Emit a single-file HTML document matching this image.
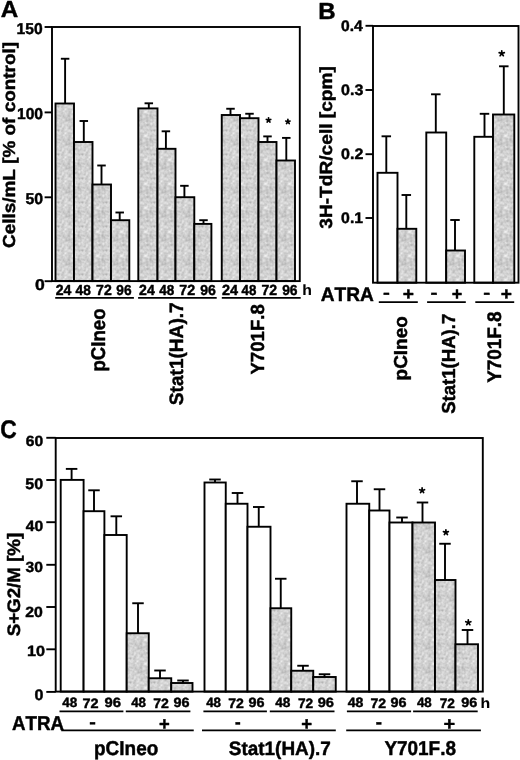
<!DOCTYPE html>
<html><head><meta charset="utf-8"><style>
html,body{margin:0;padding:0;background:#fff;}
body{width:520px;height:760px;overflow:hidden;}
svg{display:block;will-change:transform;filter:blur(0.35px);}
text{font-family:"Liberation Sans",sans-serif;font-weight:bold;font-size:200px;fill:#000;stroke:#000;stroke-linejoin:round;text-rendering:geometricPrecision;font-kerning:none;}
</style></head><body>
<svg width="520" height="760" viewBox="0 0 520 760">
<defs><pattern id="stip" patternUnits="userSpaceOnUse" x="0" y="0" width="24" height="24"><g shape-rendering="crispEdges"><path d="M10 10h1v1h-1zM6 19h1v1h-1z" fill="rgb(180,180,180)"/><path d="M18 0h1v1h-1zM3 4h1v1h-1zM3 5h1v1h-1zM20 19h1v1h-1zM6 20h1v1h-1zM21 23h1v1h-1z" fill="rgb(185,185,185)"/><path d="M3 0h1v1h-1zM19 0h1v1h-1zM20 0h1v1h-1zM21 0h1v1h-1zM3 1h1v1h-1zM4 4h1v1h-1zM21 7h1v1h-1zM21 8h1v1h-1zM7 10h1v1h-1zM9 10h1v1h-1zM6 18h1v1h-1zM21 19h1v1h-1zM7 20h1v1h-1zM15 20h1v1h-1zM20 20h1v1h-1zM21 20h1v1h-1zM8 21h1v1h-1zM18 23h1v1h-1z" fill="rgb(190,190,190)"/><path d="M2 0h1v1h-1zM17 0h1v1h-1zM2 1h1v1h-1zM2 4h1v1h-1zM2 5h1v1h-1zM4 5h1v1h-1zM6 6h1v1h-1zM12 6h1v1h-1zM21 6h1v1h-1zM22 6h1v1h-1zM22 7h1v1h-1zM15 8h1v1h-1zM10 9h1v1h-1zM14 10h1v1h-1zM7 15h1v1h-1zM21 15h1v1h-1zM6 16h1v1h-1zM7 16h1v1h-1zM21 16h1v1h-1zM21 17h1v1h-1zM20 18h1v1h-1zM21 18h1v1h-1zM2 19h1v1h-1zM5 19h1v1h-1zM7 19h1v1h-1zM11 19h1v1h-1zM15 19h1v1h-1zM8 20h1v1h-1zM2 21h1v1h-1zM3 21h1v1h-1zM6 21h1v1h-1zM7 21h1v1h-1zM16 21h1v1h-1zM2 22h1v1h-1zM3 22h1v1h-1zM8 22h1v1h-1zM18 22h1v1h-1zM21 22h1v1h-1zM3 23h1v1h-1zM20 23h1v1h-1zM22 23h1v1h-1z" fill="rgb(195,195,195)"/><path d="M4 0h1v1h-1zM22 0h1v1h-1zM6 1h1v1h-1zM8 1h1v1h-1zM17 1h1v1h-1zM18 1h1v1h-1zM21 1h1v1h-1zM15 2h1v1h-1zM23 2h1v1h-1zM13 3h1v1h-1zM0 4h1v1h-1zM5 4h1v1h-1zM0 5h1v1h-1zM1 5h1v1h-1zM5 5h1v1h-1zM6 5h1v1h-1zM8 5h1v1h-1zM19 5h1v1h-1zM1 6h1v1h-1zM7 6h1v1h-1zM6 7h1v1h-1zM14 8h1v1h-1zM20 8h1v1h-1zM22 8h1v1h-1zM3 9h1v1h-1zM6 9h1v1h-1zM9 9h1v1h-1zM14 9h1v1h-1zM15 9h1v1h-1zM6 10h1v1h-1zM8 10h1v1h-1zM11 10h1v1h-1zM13 10h1v1h-1zM7 11h1v1h-1zM10 11h1v1h-1zM13 11h1v1h-1zM14 11h1v1h-1zM1 12h1v1h-1zM2 12h1v1h-1zM15 13h1v1h-1zM20 13h1v1h-1zM21 13h1v1h-1zM22 13h1v1h-1zM23 13h1v1h-1zM6 15h1v1h-1zM22 15h1v1h-1zM14 16h1v1h-1zM22 16h1v1h-1zM6 17h1v1h-1zM13 17h1v1h-1zM14 17h1v1h-1zM20 17h1v1h-1zM22 17h1v1h-1zM1 18h1v1h-1zM2 18h1v1h-1zM3 18h1v1h-1zM7 18h1v1h-1zM3 19h1v1h-1zM9 19h1v1h-1zM10 19h1v1h-1zM12 19h1v1h-1zM19 19h1v1h-1zM2 20h1v1h-1zM5 20h1v1h-1zM12 20h1v1h-1zM16 20h1v1h-1zM19 20h1v1h-1zM15 21h1v1h-1zM17 21h1v1h-1zM18 21h1v1h-1zM19 21h1v1h-1zM21 21h1v1h-1zM0 22h1v1h-1zM1 22h1v1h-1zM6 22h1v1h-1zM7 22h1v1h-1zM9 22h1v1h-1zM17 22h1v1h-1zM20 22h1v1h-1zM0 23h1v1h-1zM2 23h1v1h-1zM8 23h1v1h-1zM13 23h1v1h-1zM17 23h1v1h-1zM19 23h1v1h-1zM23 23h1v1h-1z" fill="rgb(200,200,200)"/><path d="M5 0h1v1h-1zM8 0h1v1h-1zM9 0h1v1h-1zM13 0h1v1h-1zM23 0h1v1h-1zM4 1h1v1h-1zM5 1h1v1h-1zM7 1h1v1h-1zM15 1h1v1h-1zM16 1h1v1h-1zM19 1h1v1h-1zM20 1h1v1h-1zM22 1h1v1h-1zM0 2h1v1h-1zM3 2h1v1h-1zM13 2h1v1h-1zM14 2h1v1h-1zM20 2h1v1h-1zM21 2h1v1h-1zM0 3h1v1h-1zM3 3h1v1h-1zM4 3h1v1h-1zM5 3h1v1h-1zM12 3h1v1h-1zM1 4h1v1h-1zM9 4h1v1h-1zM13 4h1v1h-1zM19 4h1v1h-1zM9 5h1v1h-1zM12 5h1v1h-1zM13 5h1v1h-1zM21 5h1v1h-1zM22 5h1v1h-1zM23 5h1v1h-1zM0 6h1v1h-1zM5 6h1v1h-1zM8 6h1v1h-1zM11 6h1v1h-1zM13 6h1v1h-1zM16 6h1v1h-1zM20 6h1v1h-1zM23 6h1v1h-1zM7 7h1v1h-1zM15 7h1v1h-1zM16 7h1v1h-1zM20 7h1v1h-1zM6 8h1v1h-1zM2 9h1v1h-1zM5 9h1v1h-1zM7 9h1v1h-1zM8 9h1v1h-1zM11 9h1v1h-1zM23 9h1v1h-1zM3 10h1v1h-1zM4 10h1v1h-1zM15 10h1v1h-1zM1 11h1v1h-1zM15 11h1v1h-1zM0 12h1v1h-1zM14 12h1v1h-1zM15 12h1v1h-1zM20 12h1v1h-1zM21 12h1v1h-1zM0 13h1v1h-1zM1 13h1v1h-1zM14 13h1v1h-1zM8 14h1v1h-1zM9 14h1v1h-1zM13 14h1v1h-1zM14 14h1v1h-1zM20 14h1v1h-1zM21 14h1v1h-1zM22 14h1v1h-1zM4 15h1v1h-1zM8 15h1v1h-1zM11 15h1v1h-1zM12 15h1v1h-1zM13 15h1v1h-1zM17 15h1v1h-1zM18 15h1v1h-1zM20 15h1v1h-1zM8 16h1v1h-1zM13 16h1v1h-1zM20 16h1v1h-1zM7 17h1v1h-1zM0 18h1v1h-1zM5 18h1v1h-1zM9 18h1v1h-1zM13 18h1v1h-1zM14 18h1v1h-1zM15 18h1v1h-1zM16 18h1v1h-1zM19 18h1v1h-1zM1 19h1v1h-1zM8 19h1v1h-1zM13 19h1v1h-1zM14 19h1v1h-1zM16 19h1v1h-1zM3 20h1v1h-1zM11 20h1v1h-1zM14 20h1v1h-1zM17 20h1v1h-1zM1 21h1v1h-1zM4 21h1v1h-1zM5 21h1v1h-1zM9 21h1v1h-1zM14 21h1v1h-1zM20 21h1v1h-1zM4 22h1v1h-1zM10 22h1v1h-1zM11 22h1v1h-1zM16 22h1v1h-1zM19 22h1v1h-1zM22 22h1v1h-1zM23 22h1v1h-1zM1 23h1v1h-1zM4 23h1v1h-1zM9 23h1v1h-1z" fill="rgb(205,205,205)"/><path d="M0 0h1v1h-1zM1 0h1v1h-1zM6 0h1v1h-1zM12 0h1v1h-1zM14 0h1v1h-1zM16 0h1v1h-1zM0 1h1v1h-1zM1 1h1v1h-1zM9 1h1v1h-1zM12 1h1v1h-1zM13 1h1v1h-1zM14 1h1v1h-1zM23 1h1v1h-1zM4 2h1v1h-1zM5 2h1v1h-1zM6 2h1v1h-1zM8 2h1v1h-1zM11 2h1v1h-1zM12 2h1v1h-1zM16 2h1v1h-1zM22 2h1v1h-1zM9 3h1v1h-1zM14 3h1v1h-1zM15 3h1v1h-1zM20 3h1v1h-1zM23 3h1v1h-1zM8 4h1v1h-1zM12 4h1v1h-1zM16 4h1v1h-1zM17 4h1v1h-1zM18 4h1v1h-1zM20 4h1v1h-1zM21 4h1v1h-1zM23 4h1v1h-1zM7 5h1v1h-1zM10 5h1v1h-1zM16 5h1v1h-1zM17 5h1v1h-1zM18 5h1v1h-1zM20 5h1v1h-1zM2 6h1v1h-1zM3 6h1v1h-1zM4 6h1v1h-1zM9 6h1v1h-1zM10 6h1v1h-1zM19 6h1v1h-1zM1 7h1v1h-1zM5 7h1v1h-1zM12 7h1v1h-1zM2 8h1v1h-1zM5 8h1v1h-1zM7 8h1v1h-1zM16 8h1v1h-1zM23 8h1v1h-1zM0 9h1v1h-1zM1 9h1v1h-1zM4 9h1v1h-1zM13 9h1v1h-1zM20 9h1v1h-1zM21 9h1v1h-1zM22 9h1v1h-1zM0 10h1v1h-1zM2 10h1v1h-1zM5 10h1v1h-1zM0 11h1v1h-1zM2 11h1v1h-1zM6 11h1v1h-1zM16 11h1v1h-1zM17 11h1v1h-1zM18 11h1v1h-1zM19 12h1v1h-1zM22 12h1v1h-1zM2 13h1v1h-1zM4 13h1v1h-1zM8 13h1v1h-1zM13 13h1v1h-1zM19 13h1v1h-1zM4 14h1v1h-1zM7 14h1v1h-1zM18 14h1v1h-1zM19 14h1v1h-1zM23 14h1v1h-1zM5 15h1v1h-1zM9 15h1v1h-1zM10 15h1v1h-1zM14 15h1v1h-1zM19 15h1v1h-1zM23 15h1v1h-1zM5 16h1v1h-1zM9 16h1v1h-1zM11 16h1v1h-1zM12 16h1v1h-1zM15 16h1v1h-1zM18 16h1v1h-1zM0 17h1v1h-1zM1 17h1v1h-1zM12 17h1v1h-1zM15 17h1v1h-1zM16 17h1v1h-1zM19 17h1v1h-1zM23 17h1v1h-1zM8 18h1v1h-1zM10 18h1v1h-1zM11 18h1v1h-1zM12 18h1v1h-1zM22 18h1v1h-1zM23 18h1v1h-1zM4 19h1v1h-1zM17 19h1v1h-1zM18 19h1v1h-1zM22 19h1v1h-1zM1 20h1v1h-1zM9 20h1v1h-1zM10 20h1v1h-1zM13 20h1v1h-1zM18 20h1v1h-1zM22 20h1v1h-1zM22 21h1v1h-1zM5 22h1v1h-1zM13 22h1v1h-1zM14 22h1v1h-1zM15 22h1v1h-1zM5 23h1v1h-1zM6 23h1v1h-1zM12 23h1v1h-1z" fill="rgb(210,210,210)"/><path d="M7 0h1v1h-1zM15 0h1v1h-1zM11 1h1v1h-1zM2 2h1v1h-1zM7 2h1v1h-1zM17 2h1v1h-1zM1 3h1v1h-1zM8 3h1v1h-1zM11 3h1v1h-1zM16 3h1v1h-1zM19 3h1v1h-1zM21 3h1v1h-1zM22 3h1v1h-1zM6 4h1v1h-1zM10 4h1v1h-1zM11 4h1v1h-1zM22 4h1v1h-1zM11 5h1v1h-1zM15 6h1v1h-1zM17 6h1v1h-1zM0 7h1v1h-1zM2 7h1v1h-1zM4 7h1v1h-1zM8 7h1v1h-1zM9 7h1v1h-1zM10 7h1v1h-1zM11 7h1v1h-1zM13 7h1v1h-1zM14 7h1v1h-1zM17 7h1v1h-1zM23 7h1v1h-1zM0 8h1v1h-1zM1 8h1v1h-1zM3 8h1v1h-1zM8 8h1v1h-1zM9 8h1v1h-1zM10 8h1v1h-1zM17 8h1v1h-1zM19 8h1v1h-1zM12 9h1v1h-1zM16 9h1v1h-1zM19 9h1v1h-1zM1 10h1v1h-1zM12 10h1v1h-1zM16 10h1v1h-1zM18 10h1v1h-1zM19 10h1v1h-1zM23 10h1v1h-1zM3 11h1v1h-1zM4 11h1v1h-1zM5 11h1v1h-1zM8 11h1v1h-1zM9 11h1v1h-1zM11 11h1v1h-1zM19 11h1v1h-1zM6 12h1v1h-1zM7 12h1v1h-1zM13 12h1v1h-1zM16 12h1v1h-1zM23 12h1v1h-1zM5 13h1v1h-1zM7 13h1v1h-1zM9 13h1v1h-1zM5 14h1v1h-1zM6 14h1v1h-1zM10 14h1v1h-1zM12 14h1v1h-1zM15 14h1v1h-1zM17 14h1v1h-1zM4 16h1v1h-1zM10 16h1v1h-1zM16 16h1v1h-1zM17 16h1v1h-1zM19 16h1v1h-1zM23 16h1v1h-1zM2 17h1v1h-1zM5 17h1v1h-1zM8 17h1v1h-1zM9 17h1v1h-1zM11 17h1v1h-1zM18 17h1v1h-1zM4 18h1v1h-1zM17 18h1v1h-1zM18 18h1v1h-1zM0 19h1v1h-1zM4 20h1v1h-1zM0 21h1v1h-1zM10 21h1v1h-1zM11 21h1v1h-1zM13 21h1v1h-1zM12 22h1v1h-1zM7 23h1v1h-1zM10 23h1v1h-1zM11 23h1v1h-1zM14 23h1v1h-1zM16 23h1v1h-1z" fill="rgb(215,215,215)"/><path d="M10 0h1v1h-1zM11 0h1v1h-1zM10 1h1v1h-1zM9 2h1v1h-1zM18 2h1v1h-1zM19 2h1v1h-1zM2 3h1v1h-1zM6 3h1v1h-1zM10 3h1v1h-1zM17 3h1v1h-1zM18 3h1v1h-1zM14 4h1v1h-1zM15 4h1v1h-1zM18 6h1v1h-1zM3 7h1v1h-1zM19 7h1v1h-1zM4 8h1v1h-1zM11 8h1v1h-1zM13 8h1v1h-1zM17 10h1v1h-1zM20 10h1v1h-1zM22 10h1v1h-1zM12 11h1v1h-1zM20 11h1v1h-1zM21 11h1v1h-1zM22 11h1v1h-1zM3 12h1v1h-1zM4 12h1v1h-1zM5 12h1v1h-1zM8 12h1v1h-1zM9 12h1v1h-1zM10 12h1v1h-1zM11 12h1v1h-1zM12 12h1v1h-1zM18 12h1v1h-1zM3 13h1v1h-1zM6 13h1v1h-1zM11 13h1v1h-1zM12 13h1v1h-1zM16 13h1v1h-1zM18 13h1v1h-1zM0 14h1v1h-1zM1 14h1v1h-1zM11 14h1v1h-1zM16 14h1v1h-1zM3 15h1v1h-1zM16 15h1v1h-1zM3 16h1v1h-1zM3 17h1v1h-1zM10 17h1v1h-1zM17 17h1v1h-1zM23 19h1v1h-1zM0 20h1v1h-1zM12 21h1v1h-1zM23 21h1v1h-1z" fill="rgb(220,220,220)"/><path d="M1 2h1v1h-1zM10 2h1v1h-1zM7 4h1v1h-1zM14 5h1v1h-1zM15 5h1v1h-1zM14 6h1v1h-1zM18 7h1v1h-1zM12 8h1v1h-1zM18 8h1v1h-1zM17 9h1v1h-1zM18 9h1v1h-1zM21 10h1v1h-1zM23 11h1v1h-1zM17 12h1v1h-1zM10 13h1v1h-1zM2 14h1v1h-1zM3 14h1v1h-1zM15 15h1v1h-1zM4 17h1v1h-1zM23 20h1v1h-1zM15 23h1v1h-1z" fill="rgb(225,225,225)"/><path d="M7 3h1v1h-1zM0 15h1v1h-1zM0 16h1v1h-1zM2 16h1v1h-1z" fill="rgb(230,230,230)"/><path d="M17 13h1v1h-1zM2 15h1v1h-1zM1 16h1v1h-1z" fill="rgb(235,235,235)"/><path d="M1 15h1v1h-1z" fill="rgb(240,240,240)"/></g></pattern></defs>
<g stroke="#000" fill="none" stroke-linecap="butt">
<rect x="0" y="0" width="520" height="760" fill="#fff" stroke="none"/>
<text id="t0" transform="matrix(0.12127,0,0,0.11649,0.819,17.300)" stroke-width="3.79">A</text>
<line x1="44.60" y1="27.00" x2="52.00" y2="27.00" stroke-width="1.9"/>
<text id="t1" transform="matrix(0.07843,0,0,0.07782,16.584,33.719)" stroke-width="5.76">150</text>
<line x1="44.60" y1="112.40" x2="52.00" y2="112.40" stroke-width="1.9"/>
<text id="t2" transform="matrix(0.07780,0,0,0.07782,16.991,118.719)" stroke-width="5.78">100</text>
<line x1="44.60" y1="197.30" x2="52.00" y2="197.30" stroke-width="1.9"/>
<text id="t3" transform="matrix(0.07909,0,0,0.07782,25.550,203.719)" stroke-width="5.74">50</text>
<line x1="44.60" y1="281.20" x2="52.00" y2="281.20" stroke-width="1.9"/>
<text id="t4" transform="matrix(0.08789,0,0,0.07852,34.922,290.018)" stroke-width="5.42">0</text>
<line x1="65.10" y1="103.50" x2="65.10" y2="58.75" stroke-width="1.9"/>
<line x1="60.85" y1="58.75" x2="69.35" y2="58.75" stroke-width="1.9"/>
<rect x="55.50" y="103.50" width="18.50" height="177.60" fill="url(#stip)" stroke-width="1.9"/>
<line x1="83.80" y1="142.00" x2="83.80" y2="121.00" stroke-width="1.9"/>
<line x1="79.55" y1="121.00" x2="88.05" y2="121.00" stroke-width="1.9"/>
<rect x="74.00" y="142.00" width="18.50" height="139.10" fill="url(#stip)" stroke-width="1.9"/>
<line x1="101.50" y1="184.50" x2="101.50" y2="165.50" stroke-width="1.9"/>
<line x1="97.25" y1="165.50" x2="105.75" y2="165.50" stroke-width="1.9"/>
<rect x="92.50" y="184.50" width="18.50" height="96.60" fill="url(#stip)" stroke-width="1.9"/>
<line x1="119.70" y1="220.20" x2="119.70" y2="212.50" stroke-width="1.9"/>
<line x1="115.45" y1="212.50" x2="123.95" y2="212.50" stroke-width="1.9"/>
<rect x="111.00" y="220.20" width="18.30" height="60.90" fill="url(#stip)" stroke-width="1.9"/>
<line x1="148.80" y1="108.40" x2="148.80" y2="103.30" stroke-width="1.9"/>
<line x1="144.55" y1="103.30" x2="153.05" y2="103.30" stroke-width="1.9"/>
<rect x="138.30" y="108.40" width="19.20" height="172.70" fill="url(#stip)" stroke-width="1.9"/>
<line x1="165.90" y1="148.80" x2="165.90" y2="131.30" stroke-width="1.9"/>
<line x1="161.65" y1="131.30" x2="170.15" y2="131.30" stroke-width="1.9"/>
<rect x="157.50" y="148.80" width="18.00" height="132.30" fill="url(#stip)" stroke-width="1.9"/>
<line x1="184.40" y1="197.20" x2="184.40" y2="185.80" stroke-width="1.9"/>
<line x1="180.15" y1="185.80" x2="188.65" y2="185.80" stroke-width="1.9"/>
<rect x="175.50" y="197.20" width="18.80" height="83.90" fill="url(#stip)" stroke-width="1.9"/>
<line x1="203.50" y1="223.90" x2="203.50" y2="220.20" stroke-width="1.9"/>
<line x1="199.25" y1="220.20" x2="207.75" y2="220.20" stroke-width="1.9"/>
<rect x="194.30" y="223.90" width="17.10" height="57.20" fill="url(#stip)" stroke-width="1.9"/>
<line x1="230.50" y1="115.00" x2="230.50" y2="108.75" stroke-width="1.9"/>
<line x1="226.25" y1="108.75" x2="234.75" y2="108.75" stroke-width="1.9"/>
<rect x="221.75" y="115.00" width="18.25" height="166.10" fill="url(#stip)" stroke-width="1.9"/>
<line x1="249.50" y1="118.20" x2="249.50" y2="113.75" stroke-width="1.9"/>
<line x1="245.25" y1="113.75" x2="253.75" y2="113.75" stroke-width="1.9"/>
<rect x="240.00" y="118.20" width="18.50" height="162.90" fill="url(#stip)" stroke-width="1.9"/>
<line x1="267.50" y1="142.00" x2="267.50" y2="136.40" stroke-width="1.9"/>
<line x1="263.25" y1="136.40" x2="271.75" y2="136.40" stroke-width="1.9"/>
<rect x="258.50" y="142.00" width="18.00" height="139.10" fill="url(#stip)" stroke-width="1.9"/>
<line x1="286.30" y1="160.50" x2="286.30" y2="137.90" stroke-width="1.9"/>
<line x1="282.05" y1="137.90" x2="290.55" y2="137.90" stroke-width="1.9"/>
<rect x="276.50" y="160.50" width="18.50" height="120.60" fill="url(#stip)" stroke-width="1.9"/>
<rect x="52" y="27" width="247.8" height="254.10000000000002" fill="none" stroke-width="1.9"/>
<path d="M268.55 120.16L268.55 117.85M268.55 120.16L270.75 119.45M268.55 120.16L266.35 119.45M268.55 120.16L269.91 122.03M268.55 120.16L267.19 122.03" stroke-width="1.7" stroke-linecap="round" stroke-linejoin="round"/>
<path d="M287.90 121.71L287.90 119.45M287.90 121.71L290.05 121.01M287.90 121.71L285.75 121.01M287.90 121.71L289.23 123.54M287.90 121.71L286.57 123.54" stroke-width="1.7" stroke-linecap="round" stroke-linejoin="round"/>
<text id="t5" transform="matrix(0.07079,0,0,0.07321,55.729,295.475)" stroke-width="6.25">24</text>
<text id="t6" transform="matrix(0.06878,0,0,0.07218,75.619,295.331)" stroke-width="6.39">48</text>
<text id="t7" transform="matrix(0.07063,0,0,0.07321,96.060,295.475)" stroke-width="6.26">72</text>
<text id="t8" transform="matrix(0.06851,0,0,0.07218,116.345,295.331)" stroke-width="6.40">96</text>
<text id="t9" transform="matrix(0.07079,0,0,0.07321,139.029,295.475)" stroke-width="6.25">24</text>
<text id="t10" transform="matrix(0.06690,0,0,0.07218,159.224,295.331)" stroke-width="6.48">48</text>
<text id="t11" transform="matrix(0.07112,0,0,0.07321,179.256,295.475)" stroke-width="6.24">72</text>
<text id="t12" transform="matrix(0.06995,0,0,0.07218,200.135,295.331)" stroke-width="6.33">96</text>
<text id="t13" transform="matrix(0.07266,0,0,0.07321,221.916,295.475)" stroke-width="6.17">24</text>
<text id="t14" transform="matrix(0.06643,0,0,0.07218,241.526,295.331)" stroke-width="6.50">48</text>
<text id="t15" transform="matrix(0.07015,0,0,0.07321,261.464,295.475)" stroke-width="6.28">72</text>
<text id="t16" transform="matrix(0.06899,0,0,0.07218,282.142,295.331)" stroke-width="6.38">96</text>
<text id="t17" transform="matrix(0.07917,0,0,0.07448,302.142,295.250)" stroke-width="1.30">h</text>
<line x1="55.20" y1="297.90" x2="133.90" y2="297.90" stroke-width="1.9"/>
<line x1="138.10" y1="297.90" x2="216.70" y2="297.90" stroke-width="1.9"/>
<line x1="221.80" y1="297.90" x2="300.70" y2="297.90" stroke-width="1.9"/>
<text id="t18" transform="matrix(0,-0.09292,0.09982,0,105.000,371.483)" stroke-width="4.67">pCIneo</text>
<text id="t19" transform="matrix(0,-0.09535,0.09638,0,183.300,405.147)" stroke-width="4.69">Stat1(HA).7</text>
<text id="t20" transform="matrix(0,-0.09310,0.09482,0,263.500,374.547)" stroke-width="4.79">Y701F.8</text>
<text id="t21" transform="matrix(0,-0.09460,0.08672,0,14.800,247.932)" stroke-width="4.97">Cells/mL [% of control]</text>
<text id="t22" transform="matrix(0.12008,0,0,0.11576,318.164,18.500)" stroke-width="3.82">B</text>
<line x1="365.50" y1="25.80" x2="373.00" y2="25.80" stroke-width="1.9"/>
<text id="t23" transform="matrix(0.07788,0,0,0.07570,341.102,30.624)" stroke-width="5.86">0.4</text>
<line x1="365.50" y1="90.00" x2="373.00" y2="90.00" stroke-width="1.9"/>
<text id="t24" transform="matrix(0.07966,0,0,0.07570,341.088,94.824)" stroke-width="5.79">0.3</text>
<line x1="365.50" y1="154.20" x2="373.00" y2="154.20" stroke-width="1.9"/>
<text id="t25" transform="matrix(0.07996,0,0,0.07570,341.085,159.024)" stroke-width="5.78">0.2</text>
<line x1="365.50" y1="218.00" x2="373.00" y2="218.00" stroke-width="1.9"/>
<text id="t26" transform="matrix(0.07906,0,0,0.07570,341.093,222.824)" stroke-width="5.82">0.1</text>
<line x1="386.30" y1="172.80" x2="386.30" y2="136.30" stroke-width="1.9"/>
<line x1="381.55" y1="136.30" x2="391.05" y2="136.30" stroke-width="1.9"/>
<rect x="377.50" y="172.80" width="20.00" height="109.90" fill="#fff" stroke-width="1.9"/>
<line x1="406.30" y1="228.80" x2="406.30" y2="195.00" stroke-width="1.9"/>
<line x1="401.55" y1="195.00" x2="411.05" y2="195.00" stroke-width="1.9"/>
<rect x="397.50" y="228.80" width="18.80" height="53.90" fill="url(#stip)" stroke-width="1.9"/>
<line x1="435.80" y1="132.50" x2="435.80" y2="94.30" stroke-width="1.9"/>
<line x1="431.05" y1="94.30" x2="440.55" y2="94.30" stroke-width="1.9"/>
<rect x="426.30" y="132.50" width="19.90" height="150.20" fill="#fff" stroke-width="1.9"/>
<line x1="455.00" y1="250.50" x2="455.00" y2="220.00" stroke-width="1.9"/>
<line x1="450.25" y1="220.00" x2="459.75" y2="220.00" stroke-width="1.9"/>
<rect x="446.20" y="250.50" width="18.80" height="32.20" fill="url(#stip)" stroke-width="1.9"/>
<line x1="484.50" y1="136.80" x2="484.50" y2="113.80" stroke-width="1.9"/>
<line x1="479.75" y1="113.80" x2="489.25" y2="113.80" stroke-width="1.9"/>
<rect x="474.30" y="136.80" width="18.70" height="145.90" fill="#fff" stroke-width="1.9"/>
<line x1="503.80" y1="114.50" x2="503.80" y2="66.30" stroke-width="1.9"/>
<line x1="499.05" y1="66.30" x2="508.55" y2="66.30" stroke-width="1.9"/>
<rect x="493.00" y="114.50" width="21.30" height="168.20" fill="url(#stip)" stroke-width="1.9"/>
<rect x="373" y="26" width="145.5" height="256.7" fill="none" stroke-width="1.9"/>
<path d="M501.75 53.48L501.75 50.75M501.75 53.48L504.35 52.64M501.75 53.48L499.15 52.64M501.75 53.48L503.36 55.70M501.75 53.48L500.14 55.70" stroke-width="1.7" stroke-linecap="round" stroke-linejoin="round"/>
<text id="t27" transform="matrix(0,-0.09569,0.08810,0,332.000,228.753)" stroke-width="4.90">3H-TdR/cell [cpm]</text>
<text id="t28" transform="matrix(0.09550,0,0,0.09801,320.747,300.750)" stroke-width="4.65">ATRA</text>
<text id="t29" transform="matrix(0.10294,0,0,0.08125,382.901,297.825)" stroke-width="4.92">-</text>
<text id="t30" transform="matrix(0.10490,0,0,0.08125,430.486,297.825)" stroke-width="4.87">-</text>
<text id="t31" transform="matrix(0.10490,0,0,0.08125,483.286,297.825)" stroke-width="4.87">-</text>
<text id="t32" transform="matrix(0.09554,0,0,0.08971,402.861,299.921)" stroke-width="4.86">+</text>
<text id="t33" transform="matrix(0.08960,0,0,0.08971,451.708,299.921)" stroke-width="5.02">+</text>
<text id="t34" transform="matrix(0.09554,0,0,0.08971,500.661,299.921)" stroke-width="4.86">+</text>
<line x1="378.80" y1="302.10" x2="417.80" y2="302.10" stroke-width="1.9"/>
<line x1="427.10" y1="302.10" x2="465.80" y2="302.10" stroke-width="1.9"/>
<line x1="475.30" y1="302.10" x2="514.20" y2="302.10" stroke-width="1.9"/>
<text id="t35" transform="matrix(0,-0.09475,0.09411,0,407.400,380.407)" stroke-width="4.77">pCIneo</text>
<text id="t36" transform="matrix(0,-0.09290,0.09362,0,454.600,413.832)" stroke-width="4.83">Stat1(HA).7</text>
<text id="t37" transform="matrix(0,-0.09430,0.09768,0,500.800,382.852)" stroke-width="4.69">Y701F.8</text>
<text id="t38" transform="matrix(0.11412,0,0,0.12839,0.312,438.300)" stroke-width="3.72">C</text>
<line x1="46.30" y1="437.80" x2="55.70" y2="437.80" stroke-width="1.9"/>
<text id="t39" transform="matrix(0.07802,0,0,0.07430,25.779,445.526)" stroke-width="5.91">60</text>
<line x1="46.30" y1="480.00" x2="55.70" y2="480.00" stroke-width="1.9"/>
<text id="t40" transform="matrix(0.08053,0,0,0.07570,25.242,489.024)" stroke-width="5.76">50</text>
<line x1="46.30" y1="522.20" x2="55.70" y2="522.20" stroke-width="1.9"/>
<text id="t41" transform="matrix(0.07796,0,0,0.07430,25.791,530.826)" stroke-width="5.91">40</text>
<line x1="46.30" y1="564.80" x2="55.70" y2="564.80" stroke-width="1.9"/>
<text id="t42" transform="matrix(0.07775,0,0,0.07430,25.536,572.126)" stroke-width="5.92">30</text>
<line x1="46.30" y1="607.00" x2="55.70" y2="607.00" stroke-width="1.9"/>
<text id="t43" transform="matrix(0.07947,0,0,0.07430,25.169,617.126)" stroke-width="5.86">20</text>
<line x1="46.30" y1="649.30" x2="55.70" y2="649.30" stroke-width="1.9"/>
<text id="t44" transform="matrix(0.08094,0,0,0.07430,26.954,655.526)" stroke-width="5.80">10</text>
<line x1="46.30" y1="691.90" x2="55.70" y2="691.90" stroke-width="1.9"/>
<text id="t45" transform="matrix(0.08053,0,0,0.07570,34.581,700.024)" stroke-width="5.76">0</text>
<line x1="71.60" y1="479.90" x2="71.60" y2="468.90" stroke-width="1.9"/>
<line x1="65.85" y1="468.90" x2="77.35" y2="468.90" stroke-width="1.9"/>
<rect x="60.70" y="479.90" width="22.90" height="211.70" fill="#fff" stroke-width="1.9"/>
<line x1="94.00" y1="511.20" x2="94.00" y2="490.30" stroke-width="1.9"/>
<line x1="88.25" y1="490.30" x2="99.75" y2="490.30" stroke-width="1.9"/>
<rect x="83.60" y="511.20" width="20.80" height="180.40" fill="#fff" stroke-width="1.9"/>
<line x1="116.30" y1="535.00" x2="116.30" y2="516.30" stroke-width="1.9"/>
<line x1="110.55" y1="516.30" x2="122.05" y2="516.30" stroke-width="1.9"/>
<rect x="104.40" y="535.00" width="22.30" height="156.60" fill="#fff" stroke-width="1.9"/>
<line x1="138.00" y1="633.25" x2="138.00" y2="603.25" stroke-width="1.9"/>
<line x1="132.25" y1="603.25" x2="143.75" y2="603.25" stroke-width="1.9"/>
<rect x="126.70" y="633.25" width="22.05" height="58.35" fill="url(#stip)" stroke-width="1.9"/>
<line x1="160.00" y1="678.25" x2="160.00" y2="670.50" stroke-width="1.9"/>
<line x1="154.25" y1="670.50" x2="165.75" y2="670.50" stroke-width="1.9"/>
<rect x="148.75" y="678.25" width="22.50" height="13.35" fill="url(#stip)" stroke-width="1.9"/>
<line x1="183.00" y1="683.00" x2="183.00" y2="680.50" stroke-width="1.9"/>
<line x1="177.25" y1="680.50" x2="188.75" y2="680.50" stroke-width="1.9"/>
<rect x="171.25" y="683.00" width="21.25" height="8.60" fill="url(#stip)" stroke-width="1.9"/>
<line x1="215.00" y1="482.50" x2="215.00" y2="479.50" stroke-width="1.9"/>
<line x1="209.25" y1="479.50" x2="220.75" y2="479.50" stroke-width="1.9"/>
<rect x="204.50" y="482.50" width="21.25" height="209.10" fill="#fff" stroke-width="1.9"/>
<line x1="237.50" y1="503.75" x2="237.50" y2="493.00" stroke-width="1.9"/>
<line x1="231.75" y1="493.00" x2="243.25" y2="493.00" stroke-width="1.9"/>
<rect x="225.75" y="503.75" width="21.75" height="187.85" fill="#fff" stroke-width="1.9"/>
<line x1="258.75" y1="526.75" x2="258.75" y2="507.00" stroke-width="1.9"/>
<line x1="253.00" y1="507.00" x2="264.50" y2="507.00" stroke-width="1.9"/>
<rect x="247.50" y="526.75" width="23.00" height="164.85" fill="#fff" stroke-width="1.9"/>
<line x1="280.75" y1="608.25" x2="280.75" y2="578.75" stroke-width="1.9"/>
<line x1="275.00" y1="578.75" x2="286.50" y2="578.75" stroke-width="1.9"/>
<rect x="270.50" y="608.25" width="20.75" height="83.35" fill="url(#stip)" stroke-width="1.9"/>
<line x1="303.00" y1="670.75" x2="303.00" y2="665.75" stroke-width="1.9"/>
<line x1="297.25" y1="665.75" x2="308.75" y2="665.75" stroke-width="1.9"/>
<rect x="291.25" y="670.75" width="22.00" height="20.85" fill="url(#stip)" stroke-width="1.9"/>
<line x1="324.50" y1="677.00" x2="324.50" y2="674.25" stroke-width="1.9"/>
<line x1="318.75" y1="674.25" x2="330.25" y2="674.25" stroke-width="1.9"/>
<rect x="313.25" y="677.00" width="22.50" height="14.60" fill="url(#stip)" stroke-width="1.9"/>
<line x1="357.00" y1="503.75" x2="357.00" y2="481.25" stroke-width="1.9"/>
<line x1="351.25" y1="481.25" x2="362.75" y2="481.25" stroke-width="1.9"/>
<rect x="346.50" y="503.75" width="22.75" height="187.85" fill="#fff" stroke-width="1.9"/>
<line x1="379.50" y1="510.50" x2="379.50" y2="489.25" stroke-width="1.9"/>
<line x1="373.75" y1="489.25" x2="385.25" y2="489.25" stroke-width="1.9"/>
<rect x="369.25" y="510.50" width="20.25" height="181.10" fill="#fff" stroke-width="1.9"/>
<line x1="402.00" y1="522.50" x2="402.00" y2="517.50" stroke-width="1.9"/>
<line x1="396.25" y1="517.50" x2="407.75" y2="517.50" stroke-width="1.9"/>
<rect x="389.50" y="522.50" width="23.00" height="169.10" fill="#fff" stroke-width="1.9"/>
<line x1="422.50" y1="522.50" x2="422.50" y2="502.50" stroke-width="1.9"/>
<line x1="416.75" y1="502.50" x2="428.25" y2="502.50" stroke-width="1.9"/>
<rect x="412.50" y="522.50" width="22.50" height="169.10" fill="url(#stip)" stroke-width="1.9"/>
<line x1="445.00" y1="580.00" x2="445.00" y2="543.75" stroke-width="1.9"/>
<line x1="439.25" y1="543.75" x2="450.75" y2="543.75" stroke-width="1.9"/>
<rect x="435.00" y="580.00" width="20.50" height="111.60" fill="url(#stip)" stroke-width="1.9"/>
<line x1="467.50" y1="644.25" x2="467.50" y2="630.00" stroke-width="1.9"/>
<line x1="461.75" y1="630.00" x2="473.25" y2="630.00" stroke-width="1.9"/>
<rect x="455.50" y="644.25" width="22.50" height="47.35" fill="url(#stip)" stroke-width="1.9"/>
<rect x="55.7" y="438" width="427.1" height="253.60000000000002" fill="none" stroke-width="1.9"/>
<path d="M422.10 490.53L422.10 487.95M422.10 490.53L424.55 489.73M422.10 490.53L419.65 489.73M422.10 490.53L423.61 492.61M422.10 490.53L420.59 492.61" stroke-width="1.7" stroke-linecap="round" stroke-linejoin="round"/>
<path d="M445.90 532.43L445.90 529.85M445.90 532.43L448.35 531.63M445.90 532.43L443.45 531.63M445.90 532.43L447.41 534.51M445.90 532.43L444.39 534.51" stroke-width="1.7" stroke-linecap="round" stroke-linejoin="round"/>
<path d="M468.30 622.53L468.30 619.85M468.30 622.53L470.85 621.70M468.30 622.53L465.75 621.70M468.30 622.53L469.88 624.70M468.30 622.53L466.72 624.70" stroke-width="1.7" stroke-linecap="round" stroke-linejoin="round"/>
<text id="t46" transform="matrix(0,-0.09370,0.08948,0,19.800,636.337)" stroke-width="4.91">S+G2/M [%]</text>
<text id="t47" transform="matrix(0.06784,0,0,0.06725,62.321,707.440)" stroke-width="6.66">48</text>
<text id="t48" transform="matrix(0.07257,0,0,0.06821,82.544,707.575)" stroke-width="6.40">72</text>
<text id="t49" transform="matrix(0.07428,0,0,0.06725,104.605,707.440)" stroke-width="6.37">96</text>
<text id="t50" transform="matrix(0.06643,0,0,0.06725,131.226,707.440)" stroke-width="6.73">48</text>
<text id="t51" transform="matrix(0.07015,0,0,0.06821,153.164,707.575)" stroke-width="6.51">72</text>
<text id="t52" transform="matrix(0.07188,0,0,0.06725,173.622,707.440)" stroke-width="6.47">96</text>
<text id="t53" transform="matrix(0.06643,0,0,0.06725,206.226,707.440)" stroke-width="6.73">48</text>
<text id="t54" transform="matrix(0.07015,0,0,0.06821,228.164,707.575)" stroke-width="6.51">72</text>
<text id="t55" transform="matrix(0.07187,0,0,0.06725,248.622,707.440)" stroke-width="6.47">96</text>
<text id="t56" transform="matrix(0.06878,0,0,0.06725,275.219,707.440)" stroke-width="6.62">48</text>
<text id="t57" transform="matrix(0.06869,0,0,0.06821,297.975,707.575)" stroke-width="6.57">72</text>
<text id="t58" transform="matrix(0.07332,0,0,0.06725,317.712,707.440)" stroke-width="6.41">96</text>
<text id="t59" transform="matrix(0.07019,0,0,0.06725,347.714,707.440)" stroke-width="6.55">48</text>
<text id="t60" transform="matrix(0.07063,0,0,0.06821,370.460,707.575)" stroke-width="6.48">72</text>
<text id="t61" transform="matrix(0.07187,0,0,0.06725,390.522,707.440)" stroke-width="6.47">96</text>
<text id="t62" transform="matrix(0.06643,0,0,0.06725,416.926,707.440)" stroke-width="6.73">48</text>
<text id="t63" transform="matrix(0.06869,0,0,0.06821,439.675,707.575)" stroke-width="6.57">72</text>
<text id="t64" transform="matrix(0.07187,0,0,0.06725,461.222,707.440)" stroke-width="6.47">96</text>
<text id="t65" transform="matrix(0.07917,0,0,0.07103,480.442,707.650)" stroke-width="1.33">h</text>
<line x1="59.50" y1="711.40" x2="123.40" y2="711.40" stroke-width="1.9"/>
<line x1="125.80" y1="711.40" x2="190.40" y2="711.40" stroke-width="1.9"/>
<line x1="203.40" y1="711.40" x2="266.90" y2="711.40" stroke-width="1.9"/>
<line x1="269.80" y1="711.40" x2="334.50" y2="711.40" stroke-width="1.9"/>
<line x1="346.90" y1="711.40" x2="411.10" y2="711.40" stroke-width="1.9"/>
<line x1="413.10" y1="711.40" x2="477.70" y2="711.40" stroke-width="1.9"/>
<text id="t66" transform="matrix(0.09376,0,0,0.10054,11.956,730.400)" stroke-width="4.63">ATRA</text>
<text id="t67" transform="matrix(0.09902,0,0,0.08958,89.333,728.058)" stroke-width="4.78">-</text>
<text id="t68" transform="matrix(0.08529,0,0,0.08958,234.943,728.058)" stroke-width="5.15">-</text>
<text id="t69" transform="matrix(0.09314,0,0,0.08958,375.780,728.058)" stroke-width="4.93">-</text>
<text id="t70" transform="matrix(0.09158,0,0,0.09167,159.092,730.150)" stroke-width="4.91">+</text>
<text id="t71" transform="matrix(0.09257,0,0,0.09167,301.284,730.150)" stroke-width="4.88">+</text>
<text id="t72" transform="matrix(0.09950,0,0,0.09167,443.429,730.150)" stroke-width="4.71">+</text>
<line x1="61.25" y1="730.40" x2="193.75" y2="730.40" stroke-width="1.9"/>
<line x1="202.00" y1="730.40" x2="335.80" y2="730.40" stroke-width="1.9"/>
<line x1="346.20" y1="730.40" x2="480.90" y2="730.40" stroke-width="1.9"/>
<text id="t73" transform="matrix(0.09490,0,0,0.10054,93.991,754.700)" stroke-width="4.61">pCIneo</text>
<text id="t74" transform="matrix(0.09460,0,0,0.09707,228.857,754.700)" stroke-width="4.70">Stat1(HA).7</text>
<text id="t75" transform="matrix(0.09457,0,0,0.10054,384.447,754.700)" stroke-width="4.62">Y701F.8</text>
</g></svg></body></html>
